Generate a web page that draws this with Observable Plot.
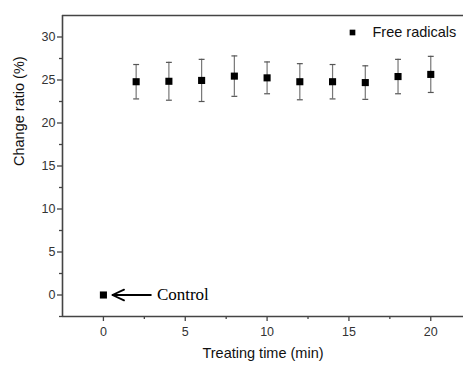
<!DOCTYPE html>
<html><head><meta charset="utf-8">
<script src="https://cdn.jsdelivr.net/npm/d3@7"></script>
<script src="https://cdn.jsdelivr.net/npm/@observablehq/plot@0.6"></script>
<style>
body{margin:0;background:#fff;}
svg{font-family:"Liberation Sans",Arial,sans-serif;}
svg g.serif-note text{font-family:"Liberation Serif","Times New Roman",serif !important;}
</style></head>
<body><div id="chart"></div>
<script>
const times = [0, 2, 4, 6, 8, 10, 12, 14, 16, 18, 20];
const values = [0, 24.8, 24.85, 24.95, 25.45, 25.25, 24.8, 24.8, 24.7, 25.4, 25.65];
const errors = [0, 2.0, 2.2, 2.45, 2.35, 1.85, 2.1, 2.0, 1.95, 2.0, 2.1];
const xTicks = [0, 5, 10, 15, 20];
const xMinor = [2.5, 7.5, 12.5, 17.5];
const yTicks = [0, 5, 10, 15, 20, 25, 30];
const yMinor = [-2.5, 2.5, 7.5, 12.5, 17.5, 22.5, 27.5];
const seriesName = "Free radicals";
const controlNote = [{x1: 2.9, x2: 0.55, y: 0, label: "Control"}];

const data = times.map((t, i) => ({t, v: values[i], e: errors[i]}));
const bars = data.filter(d => d.e > 0);
const ink = "#444";

const chart = Plot.plot({
  width: 463, height: 365,
  marginTop: 15, marginBottom: 49, marginLeft: 62, marginRight: 0,
  style: {fontFamily: "Liberation Sans, Arial, sans-serif", fontSize: "12px", color: "#333"},
  x: {domain: [-2.5, 22], label: null},
  y: {domain: [-2.5, 32.5], label: null},
  marks: [
    Plot.axisX({ticks: xTicks, tickSize: 5, tickPadding: 6, stroke: ink, strokeWidth: 1.3, fontSize: 12.5, label: null}),
    Plot.axisX({ticks: xMinor, tickSize: 3, tickFormat: () => "", stroke: ink, strokeWidth: 1.3, label: null}),
    Plot.axisY({ticks: yTicks, tickSize: 5, tickPadding: 2, stroke: ink, strokeWidth: 1.3, fontSize: 12.5, label: null}),
    Plot.axisY({ticks: yMinor, tickSize: 3, tickFormat: () => "", stroke: ink, strokeWidth: 1.3, label: null}),
    Plot.ruleY([-2.5], {stroke: ink, strokeWidth: 1.6}),
    Plot.ruleY([32.5], {stroke: ink, strokeWidth: 1.6}),
    Plot.ruleX([-2.5], {stroke: ink, strokeWidth: 1.6}),
    Plot.ruleX(bars, {x: "t", y1: d => d.v - d.e, y2: d => d.v + d.e, stroke: "#777", strokeWidth: 1.2}),
    Plot.link(bars, {x1: d => d.t - 0.18, x2: d => d.t + 0.18, y1: d => d.v + d.e, y2: d => d.v + d.e, stroke: "#555", strokeWidth: 1.2}),
    Plot.link(bars, {x1: d => d.t - 0.18, x2: d => d.t + 0.18, y1: d => d.v - d.e, y2: d => d.v - d.e, stroke: "#555", strokeWidth: 1.2}),
    Plot.dot(data, {x: "t", y: "v", symbol: "square", r: 4, fill: "#000", stroke: "none"}),
    Plot.arrow(controlNote, {x1: "x1", x2: "x2", y1: "y", y2: "y", stroke: "#000", strokeWidth: 1.8, headLength: 12, headAngle: 50}),
    Plot.text(controlNote, {x: "x1", y: "y", text: "label", textAnchor: "start", dx: 6, fontSize: 17, className: "serif-note", fontFamily: "serif", fill: "#000"}),
    Plot.dot([seriesName], {frameAnchor: "top-right", dx: -111, dy: 17, symbol: "square", r: 3.2, fill: "#000"}),
    Plot.text([seriesName], {frameAnchor: "top-right", dx: -91, dy: 17, lineAnchor: "middle", text: d => d, textAnchor: "start", fontSize: 14.5, fill: "#111"}),
    Plot.text(["Change ratio (%)"], {frameAnchor: "left", dx: -43, rotate: -90, text: d => d, fontSize: 14.5, fill: "#111"}),
    Plot.text(["Treating time (min)"], {frameAnchor: "bottom", dy: 41, text: d => d, fontSize: 14.5, fill: "#111"})
  ]
});
document.getElementById("chart").append(chart);
</script>
</body></html>
